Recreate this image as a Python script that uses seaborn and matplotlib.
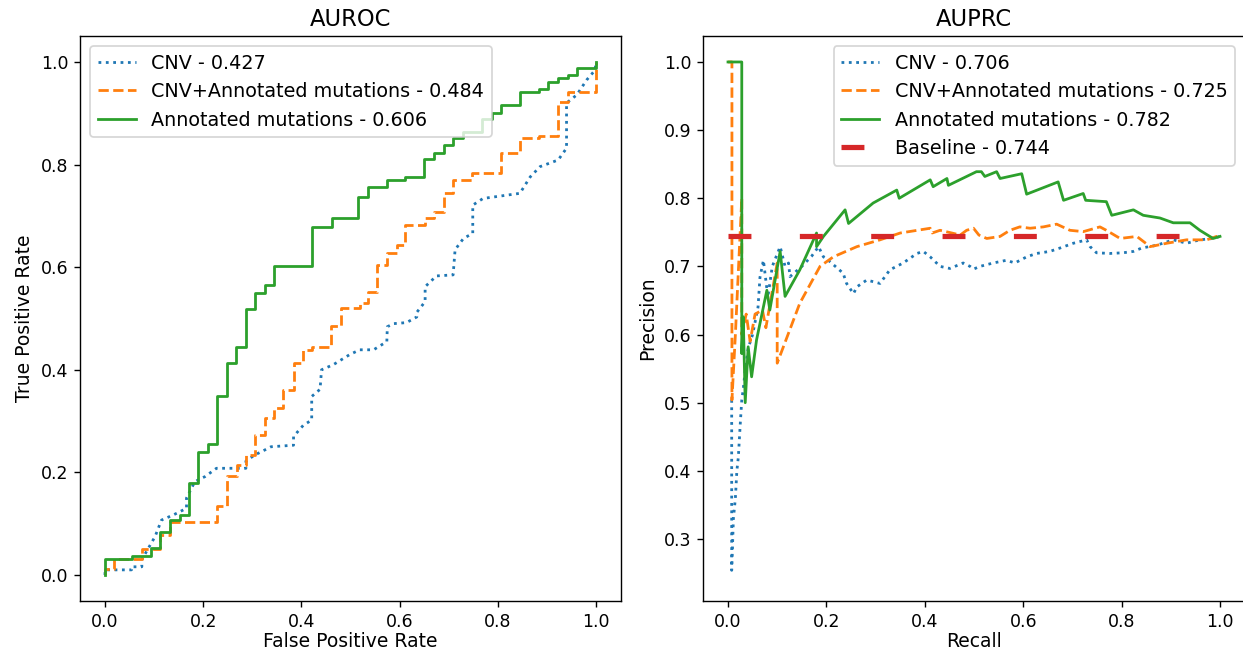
import matplotlib
matplotlib.use("Agg")
import matplotlib.pyplot as plt
import seaborn as sns

# ---------------- ROC data (fpr, tpr) ----------------
roc_cnv_fpr = [0, 0, 0.054, 0.054, 0.075, 0.075, 0.102, 0.115, 0.139, 0.166, 0.166, 0.183, 0.204, 0.227,
               0.287, 0.287, 0.305, 0.318, 0.338, 0.384, 0.384, 0.404, 0.421, 0.421, 0.438, 0.441, 0.465,
               0.499, 0.519, 0.547, 0.574, 0.575, 0.588, 0.614, 0.635, 0.635, 0.652, 0.652, 0.675, 0.709,
               0.713, 0.730, 0.749, 0.749, 0.770, 0.845, 0.866, 0.886, 0.923, 0.940, 0.940, 0.961, 0.981,
               0.998, 1.0]
roc_cnv_tpr = [0, 0.010, 0.010, 0.016, 0.016, 0.030, 0.075, 0.107, 0.117, 0.130, 0.150, 0.182, 0.192, 0.208,
               0.208, 0.222, 0.234, 0.240, 0.250, 0.253, 0.270, 0.292, 0.302, 0.348, 0.362, 0.400, 0.410,
               0.430, 0.439, 0.439, 0.455, 0.484, 0.490, 0.492, 0.503, 0.512, 0.533, 0.562, 0.583, 0.585,
               0.634, 0.656, 0.666, 0.721, 0.734, 0.744, 0.776, 0.796, 0.809, 0.832, 0.920, 0.936, 0.965,
               0.984, 1.0]

roc_comb_fpr = [0, 0, 0.019, 0.019, 0.075, 0.075, 0.112, 0.112, 0.132, 0.132, 0.229, 0.229, 0.248, 0.248,
                0.268, 0.268, 0.287, 0.287, 0.305, 0.305, 0.326, 0.326, 0.345, 0.345, 0.363, 0.363, 0.384,
                0.384, 0.403, 0.403, 0.421, 0.421, 0.460, 0.460, 0.481, 0.481, 0.520, 0.520, 0.536, 0.536,
                0.553, 0.553, 0.574, 0.574, 0.594, 0.594, 0.612, 0.612, 0.652, 0.652, 0.671, 0.671, 0.690,
                0.690, 0.709, 0.709, 0.748, 0.748, 0.806, 0.806, 0.845, 0.845, 0.884, 0.884, 0.923, 0.923,
                0.942, 0.942, 1.0, 1.0]
roc_comb_tpr = [0, 0.011, 0.011, 0.031, 0.031, 0.050, 0.050, 0.078, 0.078, 0.104, 0.104, 0.134, 0.134, 0.193,
                0.193, 0.214, 0.214, 0.234, 0.234, 0.273, 0.273, 0.307, 0.307, 0.325, 0.325, 0.361, 0.361,
                0.413, 0.413, 0.439, 0.439, 0.445, 0.445, 0.485, 0.485, 0.520, 0.520, 0.530, 0.530, 0.552,
                0.552, 0.604, 0.604, 0.627, 0.627, 0.643, 0.643, 0.682, 0.682, 0.695, 0.695, 0.708, 0.708,
                0.744, 0.744, 0.770, 0.770, 0.783, 0.783, 0.823, 0.823, 0.851, 0.851, 0.856, 0.856, 0.922,
                0.922, 0.942, 0.942, 1.0]

roc_mut_fpr = [0, 0, 0.054, 0.054, 0.093, 0.093, 0.112, 0.112, 0.132, 0.132, 0.153, 0.153, 0.171, 0.171,
               0.190, 0.190, 0.209, 0.209, 0.229, 0.229, 0.248, 0.248, 0.267, 0.267, 0.287, 0.287, 0.305,
               0.305, 0.326, 0.326, 0.345, 0.345, 0.422, 0.422, 0.462, 0.462, 0.516, 0.516, 0.536, 0.536,
               0.574, 0.574, 0.612, 0.612, 0.650, 0.650, 0.671, 0.671, 0.690, 0.690, 0.709, 0.709, 0.730,
               0.730, 0.767, 0.767, 0.788, 0.788, 0.806, 0.806, 0.845, 0.845, 0.884, 0.884, 0.903, 0.903,
               0.923, 0.923, 0.942, 0.942, 0.961, 0.961, 1.0, 1.0]
roc_mut_tpr = [0, 0.031, 0.031, 0.037, 0.037, 0.052, 0.052, 0.083, 0.083, 0.108, 0.108, 0.117, 0.117, 0.180,
               0.180, 0.240, 0.240, 0.255, 0.255, 0.348, 0.348, 0.414, 0.414, 0.445, 0.445, 0.518, 0.518,
               0.549, 0.549, 0.565, 0.565, 0.603, 0.603, 0.678, 0.678, 0.695, 0.695, 0.736, 0.736, 0.757,
               0.757, 0.770, 0.770, 0.776, 0.776, 0.810, 0.810, 0.823, 0.823, 0.838, 0.838, 0.851, 0.851,
               0.863, 0.863, 0.888, 0.888, 0.901, 0.901, 0.916, 0.916, 0.942, 0.942, 0.947, 0.947, 0.961,
               0.961, 0.969, 0.969, 0.975, 0.975, 0.988, 0.988, 1.0]

# ---------------- PR data (recall, precision) ----------------
pr_cnv_rec = [0.0075, 0.0075, 0.011, 0.015, 0.018, 0.021, 0.025, 0.028, 0.031, 0.035, 0.041, 0.050, 0.061,
              0.065, 0.072, 0.081, 0.090, 0.106, 0.116, 0.123, 0.126, 0.150, 0.170, 0.184, 0.194, 0.204,
              0.234, 0.241, 0.255, 0.262, 0.282, 0.309, 0.329, 0.356, 0.384, 0.397, 0.411, 0.431, 0.451,
              0.478, 0.492, 0.499, 0.512, 0.539, 0.566, 0.583, 0.607, 0.627, 0.654, 0.675, 0.702, 0.729,
              0.736, 0.749, 0.776, 0.803, 0.824, 0.841, 0.871, 0.905, 0.932, 0.959, 0.986, 1.0]
pr_cnv_prec = [0.504, 0.254, 0.330, 0.360, 0.400, 0.420, 0.470, 0.504, 0.520, 0.548, 0.580, 0.600, 0.640,
               0.684, 0.709, 0.655, 0.700, 0.729, 0.700, 0.705, 0.685, 0.700, 0.715, 0.729, 0.714, 0.709,
               0.690, 0.675, 0.660, 0.670, 0.680, 0.675, 0.695, 0.705, 0.719, 0.722, 0.714, 0.700, 0.697,
               0.705, 0.700, 0.696, 0.700, 0.705, 0.709, 0.705, 0.714, 0.719, 0.722, 0.727, 0.734, 0.739,
               0.729, 0.720, 0.719, 0.720, 0.722, 0.727, 0.731, 0.739, 0.734, 0.739, 0.741, 0.744]

pr_comb_rec = [0.0, 0.008, 0.008, 0.015, 0.028, 0.028, 0.037, 0.045, 0.055, 0.070, 0.077, 0.100, 0.100,
               0.146, 0.187, 0.214, 0.262, 0.309, 0.350, 0.411, 0.415, 0.431, 0.455, 0.472, 0.485, 0.499,
               0.510, 0.526, 0.553, 0.573, 0.593, 0.614, 0.641, 0.668, 0.695, 0.722, 0.756, 0.769, 0.797,
               0.831, 0.858, 0.892, 0.932, 0.973, 0.993, 1.0]
pr_comb_prec = [1.0, 1.0, 0.504, 0.600, 0.800, 0.600, 0.630, 0.590, 0.630, 0.636, 0.610, 0.705, 0.558,
                0.646, 0.700, 0.714, 0.729, 0.739, 0.749, 0.756, 0.749, 0.753, 0.749, 0.746, 0.753, 0.756,
                0.746, 0.741, 0.744, 0.753, 0.758, 0.756, 0.758, 0.762, 0.753, 0.751, 0.758, 0.753, 0.741,
                0.744, 0.729, 0.734, 0.739, 0.739, 0.744, 0.744]

pr_mut_rec = [0.0, 0.028, 0.028, 0.031, 0.035, 0.041, 0.048, 0.058, 0.079, 0.085, 0.106, 0.116, 0.146,
              0.180, 0.180, 0.194, 0.238, 0.245, 0.295, 0.343, 0.348, 0.411, 0.417, 0.445, 0.448, 0.505,
              0.515, 0.522, 0.546, 0.553, 0.597, 0.607, 0.671, 0.682, 0.722, 0.727, 0.769, 0.780, 0.824,
              0.844, 0.878, 0.905, 0.939, 0.959, 0.986, 1.0]
pr_mut_prec = [1.0, 1.0, 0.572, 0.626, 0.500, 0.582, 0.538, 0.592, 0.665, 0.636, 0.722, 0.656, 0.695,
               0.749, 0.729, 0.744, 0.783, 0.763, 0.793, 0.812, 0.800, 0.827, 0.817, 0.829, 0.819, 0.839,
               0.839, 0.832, 0.839, 0.829, 0.836, 0.806, 0.824, 0.797, 0.807, 0.797, 0.795, 0.775, 0.783,
               0.775, 0.771, 0.764, 0.764, 0.753, 0.741, 0.744]

baseline_x = [0.0, 1.0]
baseline_y = [0.744, 0.744]

roc_labels = ["CNV - 0.427", "CNV+Annotated mutations - 0.484", "Annotated mutations - 0.606"]
pr_labels = ["CNV - 0.706", "CNV+Annotated mutations - 0.725", "Annotated mutations - 0.782",
             "Baseline - 0.744"]

colors = ["tab:blue", "tab:orange", "tab:green", "tab:red"]
styles = [":", "--", "-"]

DPI = 125
fig = plt.figure(figsize=(1243 / DPI, 651 / DPI), dpi=DPI)
ax1 = fig.add_axes([80.45 / 1243, 50.35 / 651, 540.1 / 1243, 564.3 / 651])
ax2 = fig.add_axes([703.4 / 1243, 50.35 / 651, 541.2 / 1243, 564.3 / 651])

roc_sets = [(roc_cnv_fpr, roc_cnv_tpr), (roc_comb_fpr, roc_comb_tpr), (roc_mut_fpr, roc_mut_tpr)]
for (x, y), lab, c, ls in zip(roc_sets, roc_labels, colors, styles):
    sns.lineplot(x=x, y=y, ax=ax1, sort=False, estimator=None, color=c, linestyle=ls,
                 linewidth=1.6, label=lab)

pr_sets = [(pr_cnv_rec, pr_cnv_prec), (pr_comb_rec, pr_comb_prec), (pr_mut_rec, pr_mut_prec)]
for (x, y), lab, c, ls in zip(pr_sets, pr_labels[:3], colors, styles):
    sns.lineplot(x=x, y=y, ax=ax2, sort=False, estimator=None, color=c, linestyle=ls,
                 linewidth=1.6, label=lab)
sns.lineplot(x=baseline_x, y=baseline_y, ax=ax2, sort=False, estimator=None, color=colors[3],
             linestyle=(0, (4.4, 9.3)), linewidth=3, label=pr_labels[3])

ax1.set_xlim(-0.05, 1.05)
ax1.set_ylim(-0.05, 1.05)
ax2.set_xlim(-0.05, 1.05)
ax2.set_ylim(0.2095, 1.0376)

ax1.set_xticks([0, 0.2, 0.4, 0.6, 0.8, 1.0])
ax1.set_yticks([0, 0.2, 0.4, 0.6, 0.8, 1.0])
ax2.set_xticks([0, 0.2, 0.4, 0.6, 0.8, 1.0])
ax2.set_yticks([0.3, 0.4, 0.5, 0.6, 0.7, 0.8, 0.9, 1.0])

ax1.set_title("AUROC", fontsize=13)
ax2.set_title("AUPRC", fontsize=13)
ax1.set_xlabel("False Positive Rate", fontsize=10.8, labelpad=0.5)
ax1.set_ylabel("True Positive Rate", fontsize=10.8)
ax2.set_xlabel("Recall", fontsize=10.8, labelpad=0.5)
ax2.set_ylabel("Precision", fontsize=10.8)
for ax in (ax1, ax2):
    ax.tick_params(labelsize=10)

ax1.legend(loc="upper left", fontsize=11)
ax2.legend(loc="upper right", fontsize=11)

fig.savefig("out.png", dpi=DPI)
